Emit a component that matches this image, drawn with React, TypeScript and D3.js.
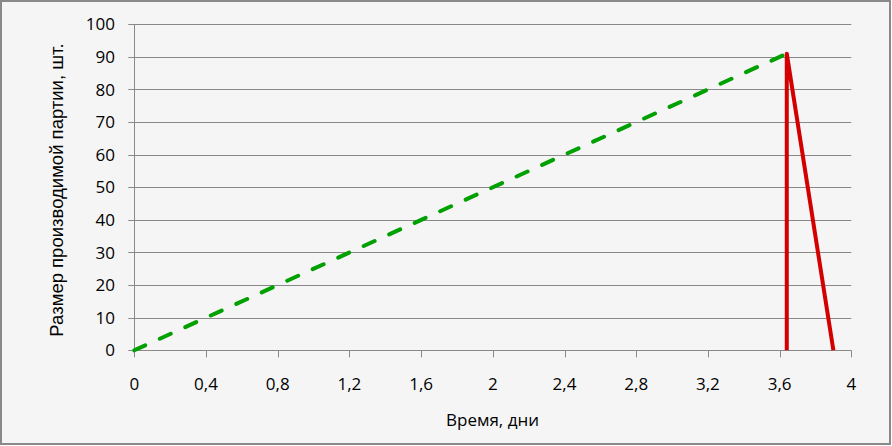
import * as d3 from "d3";

// производство партии (пунктир) и расход (сплошная)
const productionTime = [0, 3.64];
const productionSize = [0, 91];
const usageTime = [3.64, 3.64, 3.9];
const usageSize = [0, 91, 0];

const xTicks = [0, 0.4, 0.8, 1.2, 1.6, 2, 2.4, 2.8, 3.2, 3.6, 4];
const yTicks = [0, 10, 20, 30, 40, 50, 60, 70, 80, 90, 100];

const W = 892;
const H = 446;
const margin = { left: 134.3, right: 892 - 851.3, top: 24.3, bottom: 446 - 350.3 };

const axisColor = "#898989";
const tickFont = "'Open Sans', 'Noto Sans', sans-serif";

const App = () => {
  const x = d3.scaleLinear().domain([0, 4]).range([margin.left, W - margin.right]);
  const y = d3.scaleLinear().domain([0, 100]).range([H - margin.bottom, margin.top]);

  const line = d3
    .line<[number, number]>()
    .x((d) => x(d[0]))
    .y((d) => y(d[1]));

  const prod = productionTime.map((t, i) => [t, productionSize[i]] as [number, number]);
  const usage = usageTime.map((t, i) => [t, usageSize[i]] as [number, number]);
  const fmt = (v: number) => String(v).replace(".", ",");

  return (
    <svg
      width={W}
      height={H}
      style={{ position: "absolute", left: 0, top: 0, background: "#ffffff" }}
    >
      <rect x={1} y={1} width={889} height={443} fill="#f5f5f5" stroke={axisColor} strokeWidth={2} />

      {/* сетка */}
      {yTicks.map((t) => (
        <line
          key={"g" + t}
          x1={x(0) - 6}
          x2={x(4)}
          y1={Math.round(y(t)) + 0.5}
          y2={Math.round(y(t)) + 0.5}
          stroke={axisColor}
          strokeWidth={1}
        />
      ))}
      <line
        x1={Math.round(x(0)) + 0.5}
        x2={Math.round(x(0)) + 0.5}
        y1={y(100)}
        y2={y(0)}
        stroke={axisColor}
      />
      {xTicks.map((t) => (
        <line
          key={"xt" + t}
          x1={Math.round(x(t)) + 0.5}
          x2={Math.round(x(t)) + 0.5}
          y1={y(0)}
          y2={y(0) + 7}
          stroke={axisColor}
        />
      ))}

      {yTicks.map((t) => (
        <text
          key={"yl" + t}
          x={115}
          y={y(t)}
          dy="0.36em"
          textAnchor="end"
          fontFamily={tickFont}
          fontSize={17}
          fill="#000"
        >
          {t}
        </text>
      ))}
      {xTicks.map((t) => (
        <text
          key={"xl" + t}
          x={x(t)}
          y={390}
          textAnchor="middle"
          fontFamily={tickFont}
          fontSize={17}
          fill="#000"
        >
          {fmt(t)}
        </text>
      ))}

      <path
        d={line(prod) ?? ""}
        fill="none"
        stroke="#00a000"
        strokeWidth={4}
        strokeDasharray="12 16"
        strokeLinecap="round"
      />
      <path
        d={line(usage) ?? ""}
        fill="none"
        stroke="#d40000"
        strokeWidth={4}
        strokeLinejoin="round"
      />

      <text
        transform={`translate(62.5,190) rotate(-90)`}
        textAnchor="middle"
        fontFamily="'Liberation Sans', Arial, sans-serif"
        fontSize={18.5}
        fill="#000"
      >
        Размер производимой партии, шт.
      </text>
      <text
        x={492.5}
        y={425.5}
        textAnchor="middle"
        fontFamily={tickFont}
        fontSize={17}
        fill="#000"
      >
        Время, дни
      </text>
    </svg>
  );
};

export default App;
